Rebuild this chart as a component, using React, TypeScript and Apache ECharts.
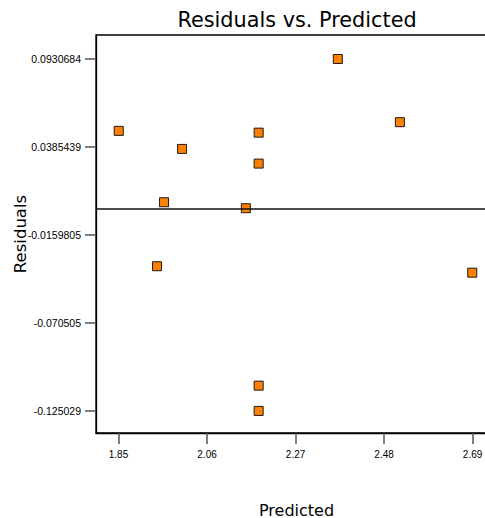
import React, { useEffect, useRef } from "react";
import * as echarts from "echarts";

const predicted = [1.8505, 2.0008, 1.958, 1.9414, 2.1521, 2.1825, 2.1825, 2.3702, 2.5175, 2.6892, 2.1825, 2.1825];
const residuals = [0.0486, 0.0374, 0.0043, -0.0354, 0.0006, 0.0475, 0.0283, 0.0932, 0.054, -0.0394, -0.1095, -0.1252];

const xTicks = [1.85, 2.06, 2.27, 2.48, 2.69];
const xTickLabels = ["1.85", "2.06", "2.27", "2.48", "2.69"];
const yTicks = [-0.125029, -0.070505, -0.0159805, 0.0385439, 0.0930684];
const yTickLabels = ["-0.125029", "-0.070505", "-0.0159805", "0.0385439", "0.0930684"];

const X_MIN = 1.7966;
const X_MAX = 2.7479;
const Y_MIN = -0.1389;
const Y_MAX = 0.1081;

// layout of the plotting area (pixels)
const G_LEFT = 96;
const G_TOP = 35;
const G_W = 401;
const G_H = 398;
const TICK_LEN = 11;

function labelFor(ticks: number[], labels: string[], v: number) {
  let best = 0;
  for (let i = 1; i < ticks.length; i++) {
    if (Math.abs(ticks[i] - v) < Math.abs(ticks[best] - v)) best = i;
  }
  return labels[best];
}

export default function App() {
  const ref = useRef<HTMLDivElement>(null);
  useEffect(() => {
    if (!ref.current) return;
    const chart = echarts.init(ref.current, null, { renderer: "svg" });
    const tickStyle = { color: "#555", width: 1.5 };

    chart.setOption({
      animation: false,
      backgroundColor: "#fff",
      graphic: [
        {
          type: "text",
          x: 297,
          y: 19.5,
          style: {
            text: "Residuals vs. Predicted",
            fontFamily: "DejaVu Sans",
            fontSize: 20.8,
            fill: "#000",
            textAlign: "center",
            textVerticalAlign: "middle",
          },
        },
        {
          type: "text",
          x: 20,
          y: 234,
          rotation: Math.PI / 2,
          style: {
            text: "Residuals",
            fontFamily: "DejaVu Sans",
            fontSize: 16.5,
            fill: "#000",
            textAlign: "center",
            textVerticalAlign: "middle",
          },
        },
      ],
      grid: [
        {
          left: G_LEFT,
          top: G_TOP,
          width: G_W,
          height: G_H,
          containLabel: false,
          outerBoundsMode: "none",
          show: true,
          borderColor: "#000",
          borderWidth: 1.3,
        },
        {
          // narrow strip left of the plot that carries the y tick marks
          left: G_LEFT - TICK_LEN,
          top: G_TOP,
          width: TICK_LEN,
          height: G_H,
          containLabel: false,
          outerBoundsMode: "none",
          show: false,
        },
      ],
      xAxis: [
        {
          type: "value",
          gridIndex: 0,
          min: X_MIN,
          max: X_MAX,
          name: "Predicted",
          nameLocation: "middle",
          nameGap: 69,
          nameTextStyle: { fontFamily: "DejaVu Sans", fontSize: 16, color: "#000" },
          axisLine: { show: true, onZero: false, lineStyle: { color: "#000", width: 1.3 } },
          axisTick: { show: true, length: TICK_LEN, customValues: xTicks, lineStyle: tickStyle },
          axisLabel: {
            customValues: xTicks,
            margin: 16,
            fontFamily: "Liberation Sans",
            fontSize: 10,
            color: "#000",
            formatter: (v: number) => labelFor(xTicks, xTickLabels, v),
          },
          splitLine: { show: false },
        },
        { type: "value", gridIndex: 1, min: 0, max: 1, show: false },
      ],
      yAxis: [
        {
          type: "value",
          gridIndex: 0,
          min: Y_MIN,
          max: Y_MAX,
          axisLine: { show: true, onZero: false, lineStyle: { color: "#000", width: 1.3 } },
          axisTick: { show: false },
          axisLabel: {
            customValues: yTicks,
            margin: 15,
            fontFamily: "Liberation Sans",
            fontSize: 10.5,
            color: "#000",
            formatter: (v: number) => labelFor(yTicks, yTickLabels, v),
          },
          splitLine: { show: false },
        },
        { type: "value", gridIndex: 1, min: Y_MIN, max: Y_MAX, show: false },
      ],
      series: [
        {
          type: "scatter",
          xAxisIndex: 0,
          yAxisIndex: 0,
          data: predicted.map((x, i) => [x, residuals[i]]),
          symbol: "rect",
          symbolSize: 9,
          itemStyle: { color: "#FF8000", borderColor: "#1a1a1a", borderWidth: 1, opacity: 1 },
          markLine: {
            silent: true,
            precision: 10,
            symbol: ["none", "none"],
            label: { show: false },
            lineStyle: { color: "#111", width: 1.5, type: "solid" },
            data: [{ yAxis: 0 }],
          },
          z: 3,
        },
        {
          type: "line",
          xAxisIndex: 1,
          yAxisIndex: 1,
          data: [],
          silent: true,
          markLine: {
            silent: true,
            precision: 10,
            symbol: ["none", "none"],
            label: { show: false },
            lineStyle: { color: "#555", width: 1.5, type: "solid" },
            data: yTicks.map((v) => ({ yAxis: v })),
          },
        },
      ],
    });
    return () => chart.dispose();
  }, []);
  return (
    <div
      ref={ref}
      style={{ position: "absolute", left: 0, top: 0, width: 485, height: 518, overflow: "hidden" }}
    />
  );
}
